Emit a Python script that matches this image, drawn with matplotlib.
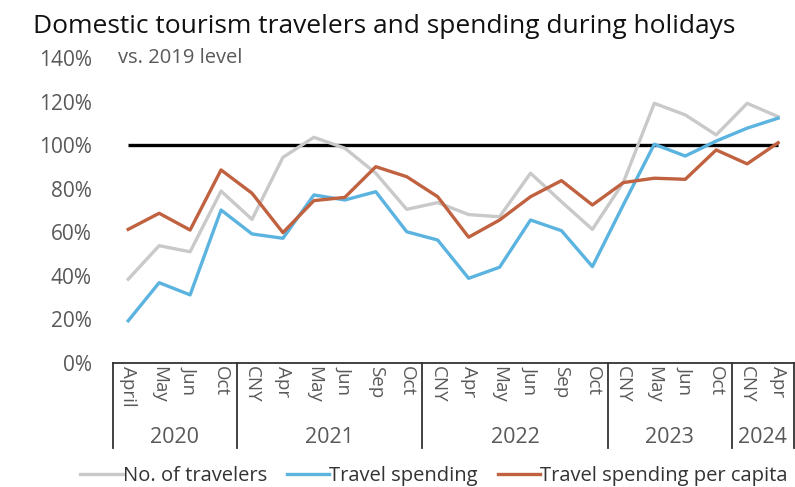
import matplotlib
matplotlib.use("Agg")
import matplotlib.pyplot as plt
from matplotlib.ticker import PercentFormatter

plt.rcParams["font.family"] = ["Open Sans", "DejaVu Sans"]

# ----------------------- data -----------------------
months = ["April", "May", "Jun", "Oct",
          "CNY", "Apr", "May", "Jun", "Sep", "Oct",
          "CNY", "Apr", "May", "Jun", "Sep", "Oct",
          "CNY", "May", "Jun", "Oct",
          "CNY", "Apr"]
years = ["2020", "2021", "2022", "2023", "2024"]
year_sizes = [4, 6, 6, 4, 2]

travelers = [38.5, 53.9, 51.1, 79.0, 66.0, 94.5, 103.7, 98.7, 87.2, 70.6, 73.7,
             68.2, 67.2, 87.2, 74.1, 61.4, 83.0, 119.3, 114.0, 104.8, 119.3, 113.2]
spending = [19.4, 36.9, 31.3, 70.3, 59.3, 57.3, 77.2, 74.9, 78.7, 60.3, 56.5,
            38.9, 44.0, 65.7, 60.8, 44.3, 72.7, 100.5, 95.1, 102.0, 107.9, 112.5]
per_capita = [61.4, 68.8, 61.1, 88.7, 78.0, 59.9, 74.6, 76.1, 90.2, 85.6, 76.4,
              57.8, 65.7, 76.4, 83.8, 72.6, 82.9, 84.9, 84.4, 97.9, 91.5, 101.2]
baseline = [100.0] * len(months)

GRAY = "#c9c9c9"
BLUE = "#5bb3e0"
BROWN = "#c0613f"
TXT = "#595959"

# ----------------------- plot -----------------------
fig = plt.figure(figsize=(7.95, 4.87), dpi=100)
ax = fig.add_axes([0.1418, 0.2546, 0.8564, 0.6257])

x = list(range(len(months)))
ax.plot(x, baseline, color="black", lw=2.4, solid_capstyle="butt")
l1, = ax.plot(x, travelers, color=GRAY, lw=2.4, label="No. of travelers")
l2, = ax.plot(x, spending, color=BLUE, lw=2.4, label="Travel spending")
l3, = ax.plot(x, per_capita, color=BROWN, lw=2.4, label="Travel spending per capita")

ax.set_xlim(-0.5, len(months) - 0.5)
ax.set_ylim(0, 140)
ax.set_yticks(range(0, 141, 20))
ax.yaxis.set_major_formatter(PercentFormatter(decimals=0))
ax.tick_params(axis="y", length=0, pad=15, labelsize=15, labelcolor=TXT)

ax.set_xticks(x)
ax.set_xticklabels(months, rotation=270, va="top", ha="center")
ax.tick_params(axis="x", length=0, pad=2, labelsize=13.5, labelcolor=TXT)

for s in ["left", "right", "top"]:
    ax.spines[s].set_visible(False)
ax.spines["bottom"].set_color("#333333")
ax.spines["bottom"].set_linewidth(1.3)

# year group dividers and labels
start = -0.5
bounds = [start]
for n in year_sizes:
    bounds.append(bounds[-1] + n)
for b in bounds:
    ax.plot([b, b], [0, -0.28], transform=ax.get_xaxis_transform(),
            color="#333333", lw=1.3, clip_on=False)
for yr, lo, hi in zip(years, bounds[:-1], bounds[1:]):
    ax.text((lo + hi) / 2, -0.243, yr, transform=ax.get_xaxis_transform(),
            ha="center", va="center", fontsize=15.5, color=TXT)

ax.text(0.008, 1.0, "vs. 2019 level", transform=ax.transAxes,
        ha="left", va="center", fontsize=14.5, color=TXT)

fig.text(0.041, 0.932, "Domestic tourism travelers and spending during holidays",
         ha="left", va="baseline", fontsize=19, color="#111111")

fig.legend(handles=[l1, l2, l3], loc="center", bbox_to_anchor=(0.546, 0.023),
           ncol=3, frameon=False, handlelength=2.1, handletextpad=0.0,
           columnspacing=1.0, fontsize=14.5, labelcolor="#333333")

fig.savefig("out.png", dpi=100)
